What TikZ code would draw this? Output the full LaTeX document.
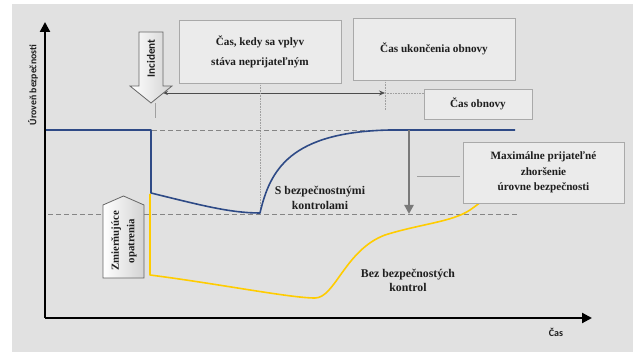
\documentclass[tikz,border=0pt]{standalone}
\usepackage{fontspec}
\setmainfont{Liberation Serif}
\newfontfamily\sansf{Carlito}
\usetikzlibrary{arrows.meta}
\definecolor{bg}{HTML}{E1E1E1}
\definecolor{boxfill}{HTML}{EBEBEB}
\definecolor{boxdraw}{HTML}{A9A9A9}
\definecolor{bluel}{HTML}{2E4A86}
\definecolor{yell}{HTML}{FFCC00}
\definecolor{dashg}{HTML}{858585}
\definecolor{thing}{HTML}{A0A0A0}
\definecolor{txt}{HTML}{1E1E1E}
\tikzset{
  infobox/.style={draw=boxdraw, fill=boxfill, line width=0.8pt, inner sep=0pt, align=center,
     text=txt, font=\bfseries\fontsize{11.2}{15.5}\selectfont},
  lbl/.style={inner sep=0pt, align=center, text=txt, font=\bfseries\fontsize{11.8}{15}\selectfont},
  axisline/.style={line width=2.2pt, black, -{Triangle[length=10pt,width=10pt]}},
  levelline/.style={dashg, line width=0.9pt, dash pattern=on 5pt off 3pt},
  thinguide/.style={thing, line width=0.7pt},
  dotguide/.style={thing, line width=0.7pt, dash pattern=on 1pt off 0.6pt},
  blockarrow/.style={draw=gray!80!black, line width=0.8pt, left color=white, right color=gray!35},
}
\begin{document}
\begin{tikzpicture}[x=1pt,y=-1pt]
\useasboundingbox (0,0) rectangle (638,352);
\fill[bg] (12,4) rectangle (633,352);

% named points
\coordinate (O) at (45,318);
\coordinate (ytop) at (45,22);
\coordinate (xend) at (592,318);
\coordinate (hiL) at (45,130);
\coordinate (hiR) at (515,130);
\coordinate (loL) at (48,214);
\coordinate (loR) at (517,214);

% boxes
\node[infobox, minimum width=162pt, minimum height=63pt, font=\bfseries\fontsize{11.2}{20}\selectfont] (b1) at (260,51.5) {Čas, kedy sa vplyv\\stáva neprijateľným};
\node[infobox, minimum width=162pt, minimum height=62pt] (b2) at (434,49) {Čas ukončenia obnovy};
\node[infobox, minimum width=108pt, minimum height=30pt] (b3) at (478,104) {Čas obnovy};

% guide lines
\coordinate (spanL) at (163,93);
\coordinate (spanR) at (385,93);
\draw[thinguide, {Stealth[length=5pt,width=4pt]}-{Stealth[length=6pt,width=5pt]}, black!70] (spanL) -- (spanR);
\draw[dotguide] (spanR) -- (b3.west |- spanR);
\coordinate (b2foot) at (385,110);
\draw[dotguide] (b2.south -| spanR) -- (b2foot);
\coordinate (b1foot) at (260,213);
\draw[dotguide] (b1.south) -- (b1foot);
\coordinate (incA) at (155,103);
\coordinate (incB) at (155,118);
\draw[thinguide] (incA) -- (incB);

% level lines
\draw[levelline] (152,130) -- (hiR);
\draw[levelline] (loL) -- (loR);

% yellow curve
\draw[yell, line width=1.6pt, line join=round]
  (150,194) -- (150,275) .. controls (220,284) and (290,298) .. (315,298)
  .. controls (335,298) and (345,250) .. (385,235)
  .. controls (420,224) and (452,222) .. (470,210)
  .. controls (480,203) and (490,195) .. (500,185);

% blue curve
\draw[bluel, line width=1.6pt, line join=round]
  (hiL) -- (151,130) -- (151,193) .. controls (200,205) and (230,213) .. (260,213)
  .. controls (270,170) and (290,132) .. (390,130) -- (hiR);

% gray deterioration arrow
\coordinate (degA) at (409,130);
\coordinate (degB) at (409,214);
\draw[gray!95!black, line width=2.6pt, -{Triangle[length=9pt,width=9pt]}] (degA) -- (degB);
\coordinate (tickA) at (417,176);
\coordinate (tickB) at (460,176);
\draw[thing, line width=0.8pt] (tickA) -- (tickB);

% max box
\node[infobox, minimum width=161pt, minimum height=61pt] (b4) at (543.5,172.5) {Maximálne prijateľné\\zhoršenie\\úrovne bezpečnosti};

% axes
\draw[axisline] (O) -- (ytop);
\draw[axisline] (O) -- (xend);
\node[inner sep=0pt, rotate=90, font=\sansf\bfseries\fontsize{9.8}{10}\selectfont, text=txt] (ylab) at (33,85) {Úroveň bezpečnosti};
\node[inner sep=0pt, font=\sansf\bfseries\fontsize{10}{10}\selectfont, text=txt] (xlab) at (556,332) {Čas};

% incident block arrow
\path[blockarrow] (139,32) -- (163,32) -- (163,86) -- (172,86) -- (151,103) -- (130,86) -- (139,86) -- cycle;
\node[inner sep=0pt, rotate=90, font=\sansf\bfseries\fontsize{11.2}{11}\selectfont, text=txt] (inc) at (151,58.5) {Incident};

% mitigation block
\path[blockarrow] (103,205) -- (123.5,196) -- (144,205) -- (144,278) -- (103,278) -- cycle;
\node[inner sep=0pt, rotate=90, align=center, font=\bfseries\fontsize{10.8}{15.5}\selectfont, text=txt] (mit) at (124,241) {Zmierňujúce\\opatrenia};

% curve labels
\node[lbl] (withc) at (320,197.5) {S bezpečnostnými\\kontrolami};
\node[lbl, font=\bfseries\fontsize{11.8}{14}\selectfont] (withoutc) at (408,280) {Bez bezpečnostých\\kontrol};
\end{tikzpicture}
\end{document}
